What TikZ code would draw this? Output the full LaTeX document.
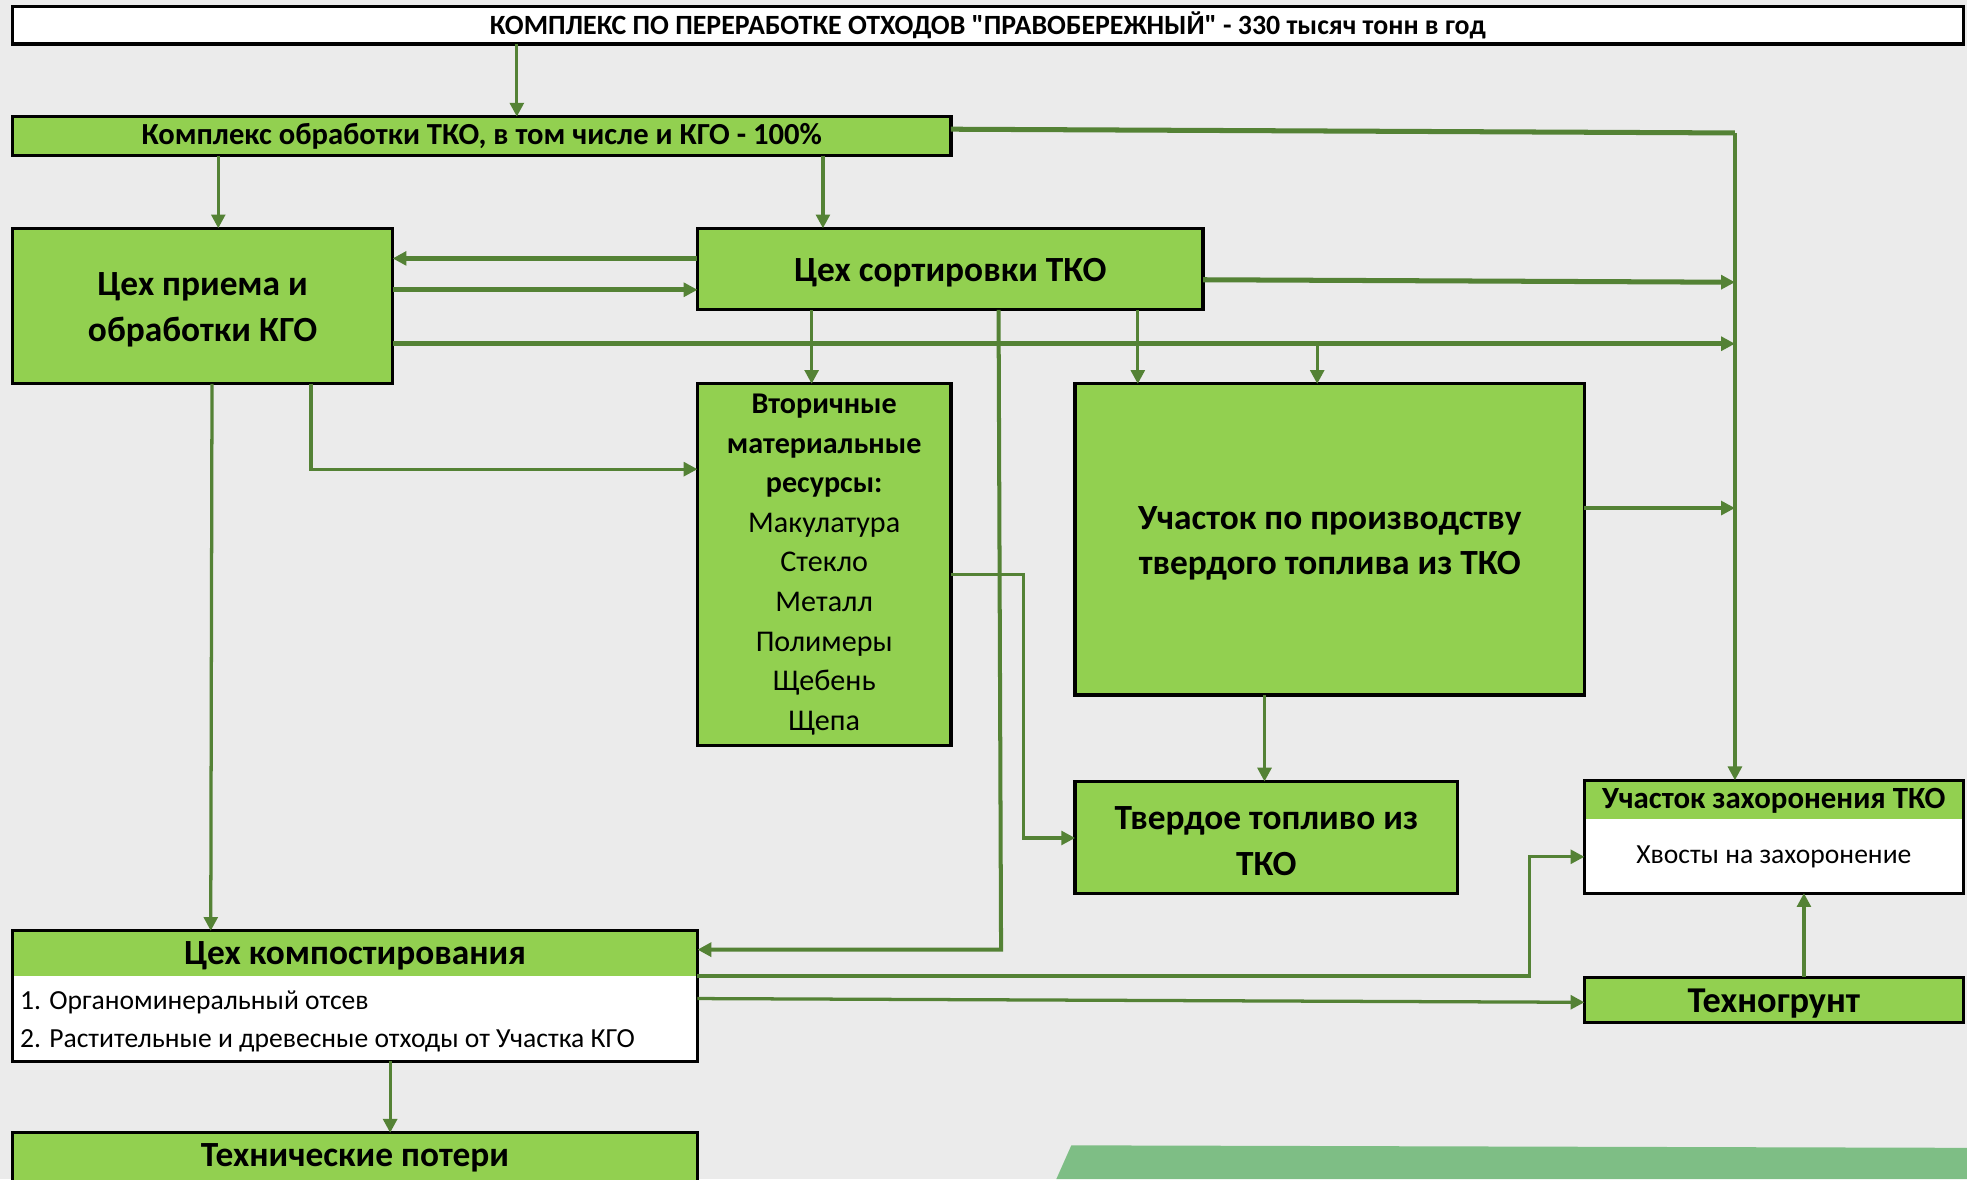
\documentclass[tikz,border=0pt]{standalone}
\usepackage{fontspec}
\setmainfont{Carlito}[Ligatures=TeXOff]
\usetikzlibrary{arrows.meta,calc}
\definecolor{gfill}{HTML}{92D050}
\definecolor{arr}{HTML}{548235}
\definecolor{bg}{HTML}{EBEBEB}
\definecolor{strip}{HTML}{7EBE85}
\tikzset{
  every node/.style={inner sep=0pt,outer sep=0pt},
  gbox/.style={draw=black,line width=1.3pt,fill=gfill,anchor=north west,align=center},
  wbox/.style={draw=black,line width=1.3pt,fill=white,anchor=north west,align=center},
  conn/.style={draw=arr,line width=1.3pt,-{Triangle[length=5.5pt,width=5.5pt]}},
  thickconn/.style={draw=arr,line width=2pt,-{Triangle[length=5.5pt,width=5.5pt]}},
  thickline/.style={draw=arr,line width=2pt},
  thinline/.style={draw=arr,line width=1.3pt},
  big/.style={font=\bfseries\fontsize{14.1}{18}\selectfont,align=center,yshift=-1.5pt},
}
\begin{document}
\begin{tikzpicture}[x=0.5pt,y=-0.5pt]
\useasboundingbox (0,0) rectangle (1568,940);
\fill[bg] (0,0) rectangle (1568,940);
\clip (0,0) rectangle (1568,940);
\fill[strip] (854,913) -- (1568,915) -- (1568,940) -- (842,940) -- cycle;

% boxes
\node[wbox, minimum width=777.5pt, minimum height=15pt, font=\bfseries\fontsize{11.1}{13}\selectfont] (t) at (10,5)
  {КОМПЛЕКС ПО ПЕРЕРАБОТКЕ ОТХОДОВ "ПРАВОБЕРЕЖНЫЙ" - 330 тысяч тонн в год};
\node[gbox, minimum width=374pt, minimum height=15.5pt, font=\bfseries\fontsize{12.2}{14}\selectfont] (b2) at (10,93)
  {Комплекс обработки ТКО, в том числе и КГО - 100\%};
\node[gbox, minimum width=151.5pt, minimum height=62pt] (b3) at (10,182) {};
\node[big] (b3t) at (b3.center) {Цех приема и\\обработки КГО};
\node[gbox, minimum width=201.5pt, minimum height=32.5pt] (b4) at (556,182) {};
\node[big] (b4t) at (b4.center) {Цех сортировки ТКО};
\node[gbox, minimum width=101pt, minimum height=144pt, font=\fontsize{12}{15.8}\selectfont] (b5) at (556,306)
  {\textbf{Вторичные}\\\textbf{материальные}\\\textbf{ресурсы:}\\Макулатура\\Стекло\\Металл\\Полимеры\\Щебень\\Щепа};
\node[gbox, minimum width=203pt, minimum height=124pt] (b6) at (857,306) {};
\node[big] (b6t) at (b6.center) {Участок по производству\\твердого топлива из ТКО};
\node[gbox, minimum width=152.5pt, minimum height=44.5pt] (b7) at (857,623) {};
\node[big] (b7t) at (b7.center) {Твердое топливо из\\ТКО};
\node[wbox, minimum width=151pt, minimum height=45pt] (b8) at (1263,622) {};
\fill[gfill] (b8.north west) rectangle ($(b8.north east)+(0,31)$);
\draw[black,line width=1.3pt] (b8.north west) rectangle (b8.south east);
\node[font=\bfseries\fontsize{12.3}{14}\selectfont] (b8h) at ($(b8.north)+(0,16)$) {Участок захоронения ТКО};
\node[font=\fontsize{11}{14}\selectfont] (b8t) at ($(b8.north)+(0,61)$) {Хвосты на захоронение};

\node[wbox, minimum width=273pt, minimum height=52pt] (b9) at (10,742) {};
\fill[gfill] (b9.north west) rectangle ($(b9.north east)+(0,36)$);
\draw[black,line width=1.3pt] (b9.north west) rectangle (b9.south east);
\node[big] (b9h) at ($(b9.north)+(0,17)$) {Цех компостирования};
\node[font=\fontsize{11}{14}\selectfont, anchor=west] (b9a) at (16,799) {1. Органоминеральный отсев};
\node[font=\fontsize{11}{14}\selectfont, anchor=west] (b9b) at (16,830) {2. Растительные и древесные отходы от Участка КГО};

\node[gbox, minimum width=151pt, minimum height=18pt] (b10) at (1263,779) {};
\node[big, font=\bfseries\fontsize{14.5}{18}\selectfont] (b10t) at (b10.center) {Техногрунт};
\node[gbox, minimum width=273pt, minimum height=30pt] (b11) at (10,903) {};
\node[big] (b11t) at (283,920) {Технические потери};

% junction coordinates
\coordinate (j1) at (1383,106);
\coordinate (j2) at (1383,225);
\coordinate (j3) at (1383,274);
\coordinate (j4) at (1383,405);
\coordinate (j5) at (1050,274);

% connectors
\draw[conn] (412,0 |- t.south) -- (412,0 |- b2.north);
\draw[conn] (174,0 |- b2.south) -- (174,0 |- b3.north);
\draw[conn] (656,0 |- b2.south) -- (656,0 |- b4.north);
\draw[thickline] (b2.east |- 0,103) -- (j1);
\draw[conn] (j1) -- (j1 |- b8.north);
\draw[thickconn] (b4.west |- 0,206) -- (b3.east |- 0,206);
\draw[thickconn] (b3.east |- 0,231) -- (b4.west |- 0,231);
\draw[thickconn] (b4.east |- 0,223) -- (j2);
\draw[thickconn] (b3.east |- 0,274) -- (j3);
\draw[conn] (j5) -- (j5 |- b6.north);
\draw[conn] (647,0 |- b4.south) -- (647,0 |- b5.north);
\draw[thinline, line width=1.6pt, -{Triangle[length=5.5pt,width=5.5pt]}] (796,0 |- b4.south) -- (798,757) -- (b9.east |- 0,757);
\draw[conn] (907,0 |- b4.south) -- (907,0 |- b6.north);
\draw[conn] (169,0 |- b3.south) -- (168,0 |- b9.north);
\draw[conn] (248,0 |- b3.south) -- (248,374) -- (b5.west |- 0,374);
\draw[conn] (b5.east |- 0,458) -- (816,458) -- (816,668) -- (b7.west |- 0,668);
\draw[conn] (1008,0 |- b6.south) -- (1008,0 |- b7.north);
\draw[conn] (b6.east |- 0,405) -- (j4);
\draw[conn] (b9.east |- 0,778) -- (1219,778) -- (1219,683) -- (b8.west |- 0,683);
\draw[conn] (b9.east |- 0,796) -- (b10.west |- 0,799);
\draw[conn] (1438,0 |- b10.north) -- (1438,0 |- b8.south);
\draw[conn] (311,0 |- b9.south) -- (311,0 |- b11.north);
\end{tikzpicture}
\end{document}
